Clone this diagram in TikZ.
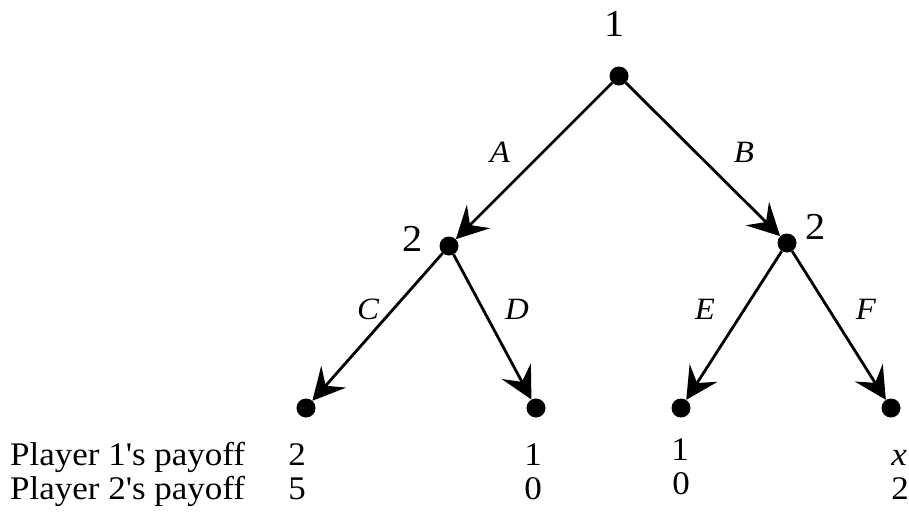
\documentclass[tikz,border=0pt]{standalone}
\usepackage{fontspec}
\setmainfont{Liberation Serif}[Ligatures=TeXOff,FakeStretch=1.06]
\usetikzlibrary{arrows.meta}
\begin{document}
\begin{tikzpicture}[x=1pt,y=-1pt,
  dot/.style={circle,fill=black,inner sep=0pt,minimum size=19pt},
  move/.style={line width=2.8pt,-{Stealth[length=32pt,width=33pt,inset=12pt]}},
  lbl/.style={font=\fontsize{31}{36}\selectfont\itshape,inner sep=0pt},
  player/.style={font=\fontsize{38}{42}\selectfont,inner sep=0pt},
  pay/.style={font=\fontsize{33}{38}\selectfont,inner sep=0pt,anchor=base}]
\useasboundingbox (0,0) rectangle (909,512);
% decision nodes
\node[dot] (r) at (619,76) {};
\node[dot] (L) at (449,246) {};
\node[dot] (R) at (787,243) {};
\node[dot] (t1) at (306,408) {};
\node[dot] (t2) at (536,408) {};
\node[dot] (t3) at (681,408) {};
\node[dot] (t4) at (891,408) {};
% edges
\draw[move] (r) -- (L);
\draw[move] (r) -- (R);
\draw[move] (L) -- (t1);
\draw[move] (L) -- (t2);
\draw[move] (R) -- (t3);
\draw[move] (R) -- (t4);
% player labels
\node[player] (p1) at (615,24) {1};
\node[player] (p2l) at (413,239) {2};
\node[player] (p2r) at (816,227) {2};
% action labels
\node[lbl] (la) at (500,152) {A};
\node[lbl] (lb) at (744,152) {B};
\node[lbl] (lc) at (368,309) {C};
\node[lbl] (ld) at (517,309) {D};
\node[lbl] (le) at (705,309) {E};
\node[lbl] (lf) at (866,309) {F};
% payoffs
\node[pay,anchor=base west] (h1) at (10,465) {Player 1's payoff};
\node[pay,anchor=base west] (h2) at (10,499) {Player 2's payoff};
\node[pay] (a1) at (297,465) {2};
\node[pay] (a2) at (297,499) {5};
\node[pay] (b1) at (533,465) {1};
\node[pay] (b2) at (533,499) {0};
\node[pay] (c1) at (680,460) {1};
\node[pay] (c2) at (681,494) {0};
\node[pay] (d1) at (899,465) {\itshape x};
\node[pay] (d2) at (900,499) {2};
\end{tikzpicture}
\end{document}
